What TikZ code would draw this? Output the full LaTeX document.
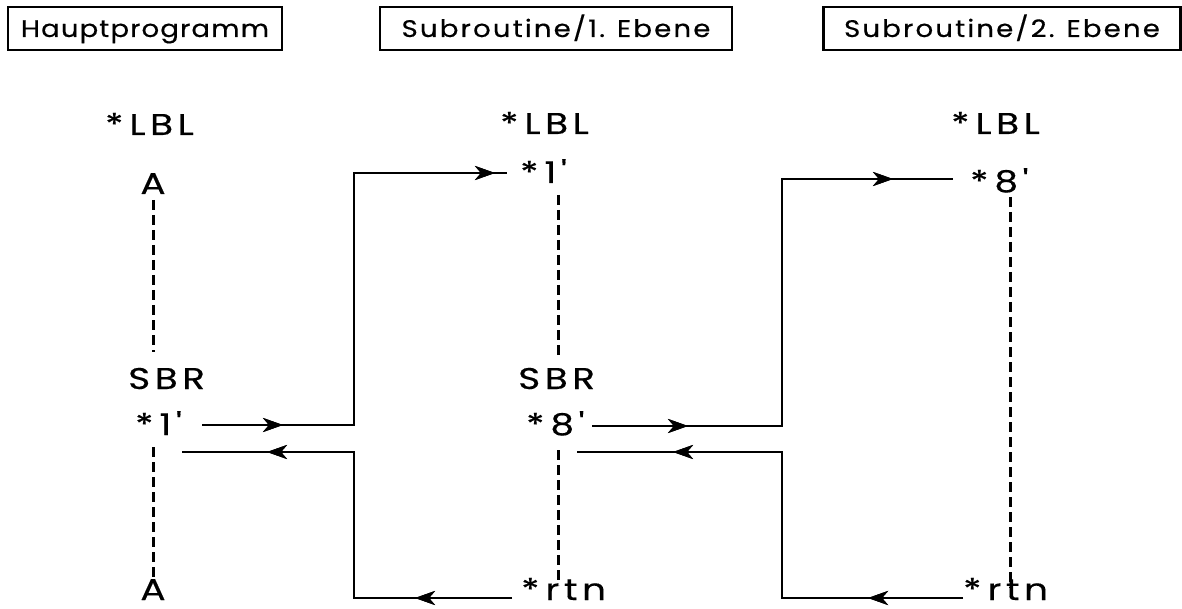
\documentclass[tikz,border=0pt]{standalone}
\usepackage{fontspec}
\usetikzlibrary{arrows.meta,decorations.markings}
\newfontfamily\hfont[Ligatures=TeXOff,LetterSpace=4.5,FakeStretch=1.15,FakeBold=0.4]{Poppins}
\newfontfamily\hfontb[Ligatures=TeXOff,LetterSpace=9,FakeStretch=1.15,FakeBold=0.4]{Poppins}
\newfontfamily\lfont[Ligatures=TeXOff,LetterSpace=15,FakeStretch=1.25,FakeBold=0.4]{Poppins}
\newcommand{\ask}{{\fontsize{30}{30}\selectfont *}\hspace{6pt}}
\newcommand{\prm}{\char"0027}
\tikzset{
  hdr/.style={draw, line width=2.2pt, minimum height=43pt, inner sep=0pt,
    text height=19pt, text depth=2pt, font=\hfont\fontsize{24}{26}\selectfont},
  hdrb/.style={hdr, font=\hfontb\fontsize{24}{26}\selectfont},
  lab/.style={inner sep=0pt, anchor=base west, font=\lfont\fontsize{30}{32}\selectfont},
  labc/.style={inner sep=0pt, anchor=base, font=\lfont\fontsize{30}{32}\selectfont},
  dline/.style={line width=3pt, dash pattern=on 10pt off 5pt},
  flow/.style={line width=2.6pt},
  arrowat/.style={postaction={decorate}, decoration={markings,
    mark=at position #1 with {\arrow{Stealth[length=20pt,width=14pt,inset=6pt]}}}}
}
\begin{document}
\begin{tikzpicture}[x=1pt,y=-1pt]
\useasboundingbox[fill=white] (0,0) rectangle (1182,609);
% headers
\node[hdr, minimum width=274pt] (h1) at (145,28.5) {Hauptprogramm};
\node[hdrb, minimum width=352pt] (h2) at (556,28.5) {Subroutine/1.\hspace{12pt}Ebene};
\node[hdrb, minimum width=357pt] (h3) at (1002,28.5) {Subroutine/2.\hspace{12pt}Ebene};
% column 1
\node[lab] (lbl1) at (105,135) {\ask LBL};
\node[labc] (a1) at (153,194) {A};
\node[lab] (sbr1) at (128,389) {SBR};
\node[lab] (call1) at (135,435) {\ask 1\prm};
\node[labc] (a2) at (153,600) {A};
% column 2
\node[lab] (lbl2) at (500,134) {\ask LBL};
\node[lab] (e1) at (520,183) {\ask 1\prm};
\node[lab] (sbr2) at (518,389) {SBR};
\node[lab] (call2) at (526,435) {\ask 8\prm};
\node[lab] (rtn2) at (521,600) {\ask rtn};
% column 3
\node[lab] (lbl3) at (951,134) {\ask LBL};
\node[lab] (e2) at (970,192) {\ask 8\prm};
\node[lab] (rtn3) at (963,600) {\ask rtn};
% dashed program flow
\draw[dline] (153,200) -- (153,352);
\draw[dline] (153,447) -- (153,583);
\draw[dline] (558,195) -- (558,355);
\draw[dline] (558,450) -- (558,585);
\draw[dline] (1010,197) -- (1010,588);
% coordinates of connector ends
\coordinate (c1out) at (202,425);
\coordinate (c1in) at (182,452);
\coordinate (e1in) at (507,173);
\coordinate (r2out) at (512,598);
\coordinate (c2out) at (592,426);
\coordinate (c2in) at (577,452);
\coordinate (e2in) at (953,179);
\coordinate (r3out) at (963,598);
% calls and returns
\draw[flow, arrowat=81pt, arrowat=545pt] (c1out) -- (354,425) -- (354,173) -- (e1in);
\draw[flow, arrowat=97pt, arrowat=391pt] (r2out) -- (354,598) -- (354,452) -- (c1in);
\draw[flow, arrowat=96pt, arrowat=548pt] (c2out) -- (782,426) -- (782,179) -- (e2in);
\draw[flow, arrowat=95pt, arrowat=436pt] (r3out) -- (782,598) -- (782,452) -- (c2in);
\end{tikzpicture}
\end{document}
